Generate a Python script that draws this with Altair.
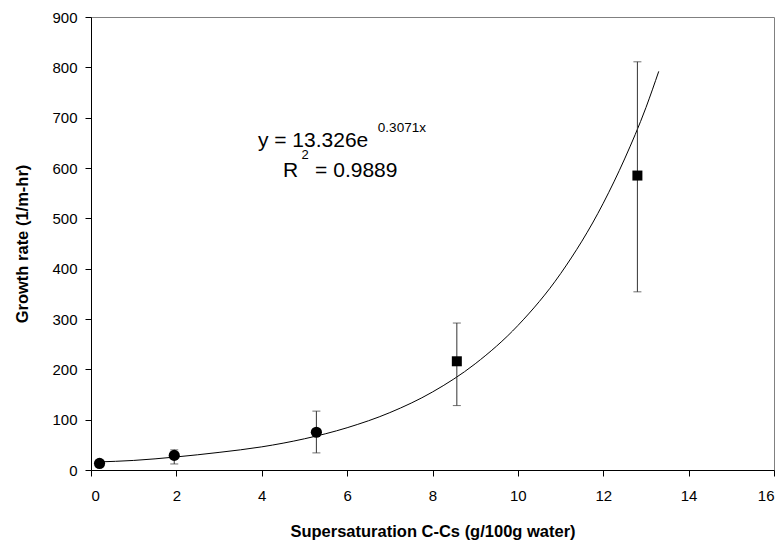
import altair as alt
import pandas as pd

# Measured data points
x_vals = [0.2, 1.95, 5.28, 8.57, 12.8]
y_vals = [13, 29, 75, 216, 585]
err_lo = [9, 12, 34, 128, 354]
err_hi = [17, 40, 117, 292, 811]
shapes = ["circle", "circle", "circle", "square", "square"]

# Trend line (exponential fit as drawn)
trend_x = [0.15, 1, 2, 3, 4, 5, 6, 7, 8, 9, 10, 11, 12, 12.5, 13, 13.3]
trend_y = [16, 19, 26, 35, 46, 62, 84, 114, 155, 211, 287, 390, 530, 618, 720, 792]

pts = pd.DataFrame({"x": x_vals, "y": y_vals, "lo": err_lo, "hi": err_hi, "shape": shapes})
trend = pd.DataFrame({"x": trend_x, "y": trend_y})

FONT = "Liberation Sans"

xs = alt.Scale(domain=[0, 16], nice=False, zero=False)
ys = alt.Scale(domain=[0, 900], nice=False)

xax = alt.Axis(values=list(range(0, 17, 2)), title="Supersaturation C-Cs (g/100g water)",
               labelPadding=12, titlePadding=20)
yax = alt.Axis(values=list(range(0, 901, 100)), title="Growth rate (1/m-hr)",
               labelPadding=8, titlePadding=21)

base = alt.Chart(pts)

line = alt.Chart(trend).mark_line(color="black", strokeWidth=1, interpolate="monotone").encode(
    x=alt.X("x:Q", scale=xs, axis=xax),
    y=alt.Y("y:Q", scale=ys, axis=yax),
)

rule = base.mark_rule(color="#333333", strokeWidth=1).encode(
    x="x:Q", y="lo:Q", y2="hi:Q"
)
cap_lo = base.mark_tick(color="#333333", orient="horizontal", size=8, thickness=1).encode(
    x="x:Q", y="lo:Q"
)
cap_hi = base.mark_tick(color="#333333", orient="horizontal", size=8, thickness=1).encode(
    x="x:Q", y="hi:Q"
)
sq = base.transform_filter(alt.datum.shape == "square").mark_point(
    shape="square", filled=True, size=100, color="black", opacity=1
).encode(x="x:Q", y="y:Q")
circ = base.transform_filter(alt.datum.shape == "circle").mark_circle(
    size=125, color="black", opacity=1
).encode(x="x:Q", y="y:Q")

# Annotation texts
ann_main = pd.DataFrame({"x": [3.91], "y": [642], "t": ["y = 13.326e"]})
ann_sup = pd.DataFrame({"x": [6.72], "y": [672], "t": ["0.3071x"]})
ann_r = pd.DataFrame({"x": [4.50], "y": [582], "t": ["R"]})
ann_r2 = pd.DataFrame({"x": [4.93], "y": [618], "t": ["2"]})
ann_rv = pd.DataFrame({"x": [5.25], "y": [582], "t": ["= 0.9889"]})


def txt(df, size):
    return alt.Chart(df).mark_text(
        align="left", baseline="alphabetic", font=FONT, fontSize=size, color="black"
    ).encode(x="x:Q", y="y:Q", text="t:N")


chart = alt.layer(
    line, rule, cap_lo, cap_hi, sq, circ,
    txt(ann_main, 21), txt(ann_sup, 13.5), txt(ann_r, 21), txt(ann_r2, 13), txt(ann_rv, 21),
).properties(
    width=683, height=453,
    autosize=alt.AutoSizeParams(type="none"),
    padding={"left": 91, "top": 17, "right": 7, "bottom": 72},
    background="white",
).configure_view(
    stroke="#808080", strokeWidth=1
).configure_axis(
    grid=False, domainColor="black", tickColor="black", tickSize=6,
    labelFont=FONT, labelFontSize=15, labelColor="black",
    titleFont=FONT, titleFontSize=16.5, titleFontWeight="bold", titleColor="black",
)

chart.save("out.html", embed_options={"renderer": "svg", "actions": False})
